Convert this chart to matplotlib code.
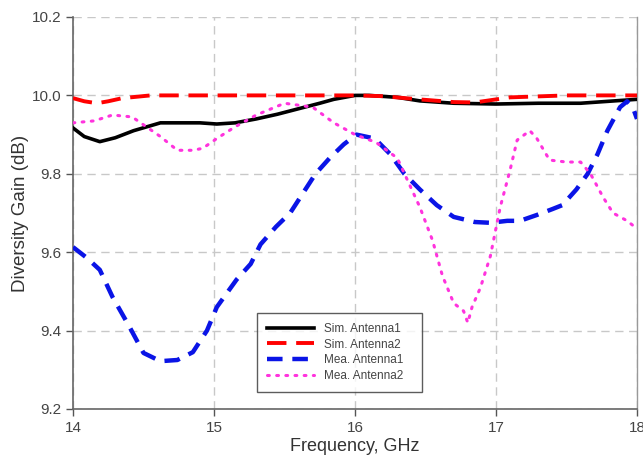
import matplotlib
matplotlib.use("Agg")
import matplotlib.pyplot as plt

plt.rcParams['font.family'] = ['Liberation Sans', 'DejaVu Sans']

sim1_f = [14.0, 14.08, 14.19, 14.3, 14.43, 14.62, 14.9, 15.02, 15.15, 15.3, 15.45, 15.6, 15.75, 15.85, 16.0, 16.1, 16.3, 16.46, 16.7, 17.0, 17.3, 17.6, 17.8, 18.0]
sim1_g = [9.917, 9.895, 9.882, 9.892, 9.91, 9.93, 9.93, 9.927, 9.93, 9.94, 9.952, 9.966, 9.98, 9.99, 10.0, 10.0, 9.995, 9.986, 9.98, 9.978, 9.98, 9.98, 9.985, 9.99]

sim2_f = [14.0, 14.08, 14.17, 14.25, 14.35, 14.55, 14.8, 15.2, 15.6, 16.0, 16.2, 16.45, 16.7, 16.85, 17.1, 17.5, 17.8, 18.0]
sim2_g = [9.993, 9.985, 9.98, 9.985, 9.993, 10.0, 10.0, 10.0, 10.0, 10.0, 9.998, 9.99, 9.983, 9.982, 9.995, 10.0, 10.0, 10.0]

mea1_f = [14.0, 14.1, 14.19, 14.28, 14.4, 14.5, 14.62, 14.74, 14.85, 14.95, 15.02, 15.09, 15.16, 15.26, 15.33, 15.44, 15.54, 15.63, 15.72, 15.82, 15.92, 16.01, 16.14, 16.25, 16.35, 16.46, 16.58, 16.7, 16.85, 16.96, 17.08, 17.17, 17.29, 17.4, 17.47, 17.57, 17.65, 17.72, 17.79, 17.88, 17.93, 17.97, 18.0]
mea1_g = [9.613, 9.585, 9.555, 9.486, 9.41, 9.343, 9.322, 9.325, 9.345, 9.40, 9.46, 9.495, 9.53, 9.57, 9.62, 9.665, 9.70, 9.75, 9.80, 9.84, 9.875, 9.90, 9.89, 9.85, 9.80, 9.76, 9.72, 9.69, 9.677, 9.675, 9.68, 9.68, 9.695, 9.71, 9.72, 9.76, 9.80, 9.85, 9.91, 9.97, 9.985, 9.97, 9.94]

mea2_f = [14.0, 14.15, 14.28, 14.42, 14.5, 14.62, 14.74, 14.85, 14.92, 15.02, 15.15, 15.3, 15.5, 15.7, 15.85, 16.0, 16.15, 16.3, 16.46, 16.55, 16.62, 16.70, 16.77, 16.80, 16.83, 16.89, 16.96, 17.03, 17.10, 17.15, 17.24, 17.29, 17.38, 17.50, 17.60, 17.67, 17.76, 17.83, 17.93, 18.0]
mea2_g = [9.93, 9.935, 9.95, 9.945, 9.925, 9.895, 9.86, 9.86, 9.865, 9.89, 9.92, 9.95, 9.98, 9.97, 9.93, 9.90, 9.88, 9.84, 9.715, 9.63, 9.54, 9.47, 9.45, 9.42, 9.46, 9.51, 9.59, 9.715, 9.81, 9.886, 9.91, 9.89, 9.835, 9.83, 9.83, 9.80, 9.74, 9.70, 9.68, 9.66]

x_ticks = [14, 15, 16, 17, 18]
y_ticks = [9.2, 9.4, 9.6, 9.8, 10.0, 10.2]

fig = plt.figure(figsize=(6.43, 4.62), dpi=100)
ax = fig.add_axes([73/643, 1 - 409/462, 564/643, 392/462])

ax.plot(sim1_f, sim1_g, color='black', lw=2.6, label='Sim. Antenna1', zorder=3)
ax.plot(sim2_f, sim2_g, color='red', lw=2.8, dashes=(5, 2.5), label='Sim. Antenna2', zorder=4)
ax.plot(mea1_f, mea1_g, color='#0a14e6', lw=3.2, dashes=(3.5, 2.2), label='Mea. Antenna1', zorder=3)
ax.plot(mea2_f, mea2_g, color='#ff33dd', lw=2.2, linestyle=(0, (0.6, 2.4)), dash_capstyle='round', label='Mea. Antenna2', zorder=3)

ax.set_xlim(14, 18)
ax.set_ylim(9.2, 10.2)
ax.set_xticks(x_ticks)
ax.set_yticks(y_ticks)
ax.set_yticklabels([f"{v:.1f}" for v in y_ticks])
ax.grid(True, color='#c8c8c8', linestyle=(0, (6, 4)), lw=1.0)
ax.set_axisbelow(True)
ax.spines['top'].set_visible(False)
ax.spines['right'].set_color('#999999')
ax.spines['right'].set_linewidth(1.0)
for s in ['left', 'bottom']:
    ax.spines[s].set_color('#666666')
    ax.spines[s].set_linewidth(1.2)
ax.tick_params(axis='both', labelsize=11, colors='#555555', direction='out', length=5, width=1.0)
ax.tick_params(axis='both', labelcolor='#444444')
ax.set_xlabel('Frequency, GHz', fontsize=13, color='#333333', labelpad=2)
ax.set_ylabel('Diversity Gain (dB)', fontsize=13.5, color='#333333', labelpad=2)

leg = ax.legend(loc='lower left', bbox_to_anchor=(0.326, 0.043, 0.293, 0.2), mode='expand',
                borderaxespad=0,
                fontsize=8.5, frameon=True, fancybox=False, edgecolor='#333333',
                handlelength=4.0, borderpad=0.85, labelspacing=0.32, handletextpad=0.8)
leg.get_frame().set_linewidth(1.0)
for t in leg.get_texts():
    t.set_color('#444444')

fig.savefig('out.png', dpi=100)
